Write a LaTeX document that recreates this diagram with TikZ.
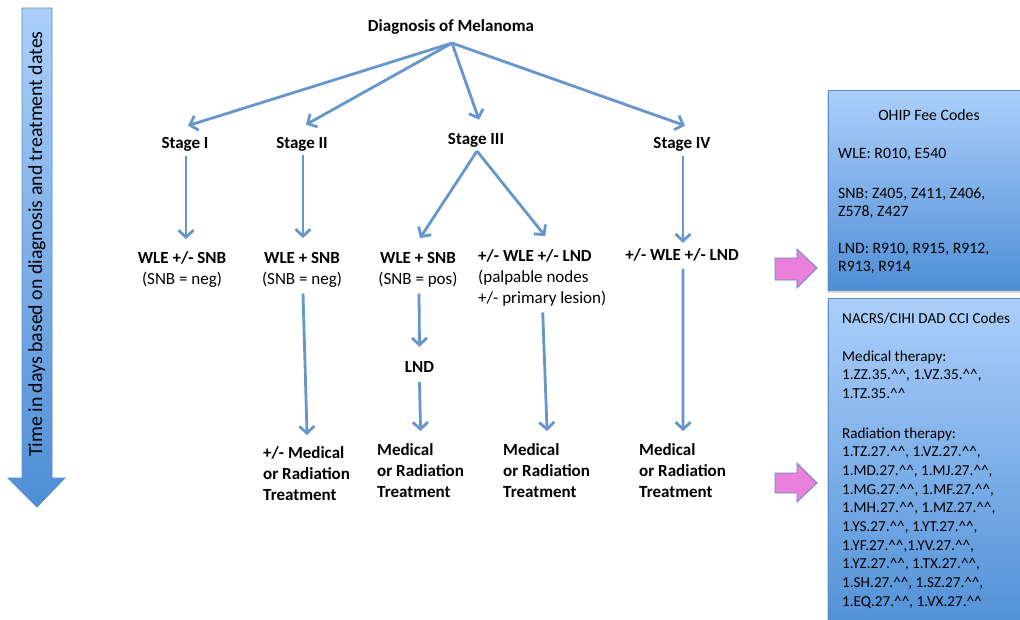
\documentclass[tikz,border=0pt]{standalone}
\usepackage{fontspec}
\setmainfont{Carlito}
\usetikzlibrary{arrows.meta,calc,shadows}
\definecolor{connc}{RGB}{102,150,204}
\definecolor{boxtop}{RGB}{172,207,250}
\definecolor{boxbot}{RGB}{78,142,213}
\definecolor{boxline}{RGB}{92,140,200}
\definecolor{pinkfill}{RGB}{232,128,220}
\newcommand\hats{\textasciicircum\textasciicircum}
\newcommand\mylinesL[1]{\begin{tabular}[t]{@{}l@{}}#1\end{tabular}}
\newcommand\mylinesC[1]{\begin{tabular}[t]{@{}c@{}}#1\end{tabular}}
\begin{document}
\begin{tikzpicture}[x=1pt,y=-1pt,
  conn/.style={draw=connc, line width=2.8pt, -{Straight Barb[length=7pt,width=15pt]}},
  lab/.style={font=\fontsize{17}{21}\selectfont\bfseries, inner sep=0pt, anchor=base},
  labw/.style={font=\fontsize{17}{21}\selectfont\bfseries, inner sep=0pt, anchor=base west},
  txt/.style={font=\fontsize{17}{21}\selectfont, inner sep=0pt},
  codebox/.style={draw=boxline, line width=0.8pt, top color=boxtop, bottom color=boxbot,
     inner sep=0pt, anchor=north west, minimum width=200pt,
     drop shadow={shadow xshift=-1.5pt, shadow yshift=-2.5pt, opacity=.3}},
  boxtxtA/.style={font=\fontsize{15.8}{18.5}\selectfont, inner sep=0pt, anchor=base west},
  boxtxtB/.style={font=\fontsize{15.2}{18.67}\selectfont, inner sep=0pt, anchor=base west},
  pinkarrow/.style={fill=pinkfill, draw=boxline, line width=0.8pt},
  timearrow/.style={top color=boxtop, bottom color=boxbot, draw=boxline, line width=0.8pt}]
\useasboundingbox (0,0) rectangle (1020,619);
\clip (0,0) rectangle (1020,619);
\fill[white] (0,0) rectangle (1020,619);

% time arrow
\path[timearrow] (22,8) -- (52,8) -- (52,478) -- (65,478) -- (37,507) -- (8,478) -- (22,478) -- cycle;
\node[font=\fontsize{19.8}{22}\selectfont, inner sep=0pt, rotate=90] (time) at (37,244) {Time in days based on diagnosis and treatment dates};

% code boxes
\node[codebox, minimum height=200pt] (ohipbox) at (828,90) {};
\node[codebox, minimum height=340pt] (ccibox) at (828,298) {};

\node[font=\fontsize{15.8}{18.5}\selectfont, inner sep=0pt, anchor=base] (ohipT) at (929,120) {OHIP Fee Codes};
\node[boxtxtA] (ohipA) at (838,158) {WLE: R010, E540};
\node[boxtxtA] (ohipB) at (838,198) {\mylinesL{SNB: Z405, Z411, Z406,\\Z578, Z427}};
\node[boxtxtA] (ohipC) at (838,253) {\mylinesL{LND: R910, R915, R912,\\R913, R914}};

\node[boxtxtB] (ccT) at (842,323) {NACRS/CIHI DAD CCI Codes};
\node[boxtxtB] (ccM) at (842,361) {\mylinesL{Medical therapy:\\1.ZZ.35.\hats, 1.VZ.35.\hats,\\1.TZ.35.\hats}};
\node[boxtxtB] (ccR) at (842,438) {\mylinesL{Radiation therapy:\\
1.TZ.27.\hats, 1.VZ.27.\hats,\\
1.MD.27.\hats, 1.MJ.27.\hats,\\
1.MG.27.\hats, 1.MF.27.\hats,\\
1.MH.27.\hats, 1.MZ.27.\hats,\\
1.YS.27.\hats, 1.YT.27.\hats,\\
1.YF.27.\hats,1.YV.27.\hats,\\
1.YZ.27.\hats, 1.TX.27.\hats,\\
1.SH.27.\hats, 1.SZ.27.\hats,\\
1.EQ.27.\hats, 1.VX.27.\hats}};

% pink arrows
\draw[pinkarrow] (775,258) -- (797,258) -- (797,249) -- (817,268) -- (797,288) -- (797,280) -- (775,280) -- cycle;
\draw[pinkarrow] (775,473) -- (797,473) -- (797,463) -- (817,483) -- (797,502) -- (797,493) -- (775,493) -- cycle;

% flow nodes
\node[lab] (diag) at (451,31) {Diagnosis of Melanoma};
\node[lab] (s1) at (185,148) {Stage I};
\node[lab] (s2) at (302,148) {Stage II};
\node[lab] (s3) at (476,144) {Stage III};
\node[lab] (s4) at (682,148) {Stage IV};

\node[txt, anchor=base] (w1) at (182,263) {\mylinesC{\textbf{WLE +/- SNB}\\(SNB = neg)}};
\node[txt, anchor=base] (w2) at (302,263) {\mylinesC{\textbf{WLE + SNB}\\(SNB = neg)}};
\node[txt, anchor=base] (w3) at (418,263) {\mylinesC{\textbf{WLE + SNB}\\(SNB = pos)}};
\node[txt, anchor=base west] (w4) at (478,261) {\mylinesL{\textbf{+/- WLE +/- LND}\\(palpable nodes\\+/- primary lesion)}};
\node[lab] (w5) at (682,260) {+/- WLE +/- LND};
\node[lab] (lnd) at (419.5,372) {LND};

\node[labw] (t1) at (263,458) {\mylinesL{+/- Medical\\or Radiation\\Treatment}};
\node[labw] (t2) at (377,455) {\mylinesL{Medical\\or Radiation\\Treatment}};
\node[labw] (t3) at (503,455) {\mylinesL{Medical\\or Radiation\\Treatment}};
\node[labw] (t4) at (639,455) {\mylinesL{Medical\\or Radiation\\Treatment}};

% connectors
\draw[conn] ($(diag.south)+(1,9)$) -- ($(s1.north)+(3,-11)$);
\draw[conn] ($(diag.south)+(1,9)$) -- ($(s2.north)+(4,-12)$);
\draw[conn] ($(diag.south)+(1,9)$) -- ($(s3.north)+(3,-13)$);
\draw[conn] ($(diag.south)+(1,9)$) -- ($(s4.north)+(3,-11)$);

\draw[conn] ($(s1.south)+(1,5)$) -- ($(w1.north)+(4,-9)$);
\draw[conn] ($(s2.south)+(1,4)$) -- ($(w2.north)+(1,-10)$);
\draw[conn] ($(s3.south)+(1,4)$) -- ($(w3.north)+(2,-10)$);
\draw[conn] ($(s3.south)+(1,4)$) -- ($(w4.north)+(3,-10)$);
\draw[conn] ($(s4.south)+(1,5)$) -- ($(w5.north)+(1,-5)$);

\draw[conn] ($(w2.south)+(1,3)$) -- ($(t1.north)+(0.5,-8)$);
\draw[conn] ($(w3.south)+(1,3)$) -- ($(lnd.north)+(0,-14)$);
\draw[conn] ($(lnd.south)+(0,10)$) -- ($(t2.north)+(0,-9)$);
\draw[conn] ($(w4.south)+(0.5,3)$) -- ($(t3.north)+(0.5,-9)$);
\draw[conn] ($(w5.south)+(1,8)$) -- ($(t4.north)+(0.5,-9)$);
\end{tikzpicture}
\end{document}
